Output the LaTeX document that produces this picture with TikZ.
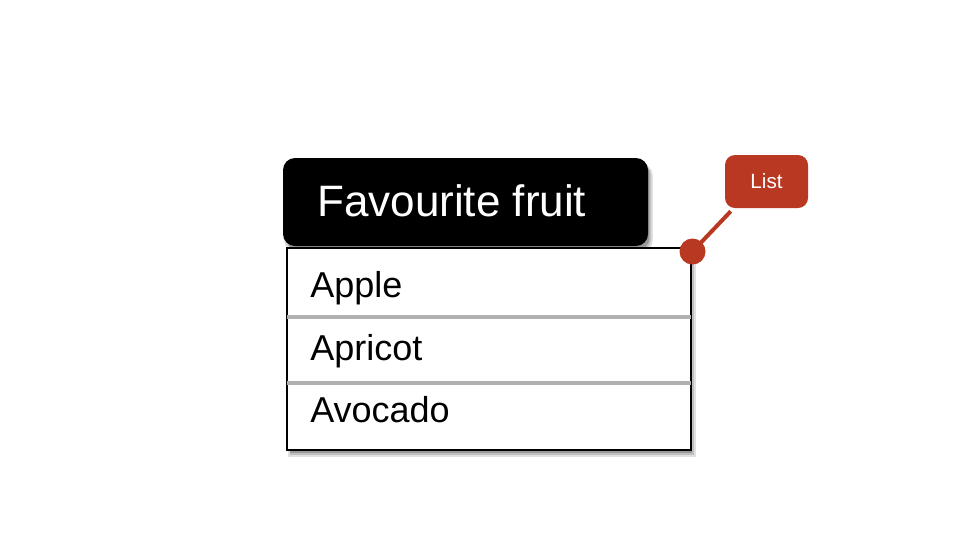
\documentclass[tikz,border=0pt]{standalone}
\usepackage{fontspec}
\setmainfont{Liberation Sans}
\usetikzlibrary{shadows}
\definecolor{calloutred}{RGB}{185,56,34}
\definecolor{rulegray}{RGB}{176,176,176}

\begin{document}
\begin{tikzpicture}[x=0.75pt,y=0.75pt,yscale=-1,xscale=1,
  boxshadow/.style={
    general shadow={shadow xshift=2.25pt,shadow yshift=-4.5pt,opacity=0.12,fill=black,shadow scale=1.01},
    general shadow={shadow xshift=2.25pt,shadow yshift=-4pt,opacity=0.15,fill=black},
    general shadow={shadow xshift=1.8pt,shadow yshift=-3pt,opacity=0.2,fill=black,shadow scale=0.995}},
  item/.style={anchor=base west,inner sep=0pt,font=\fontsize{27}{32}\selectfont}]
\useasboundingbox (0,0) rectangle (960,540);

%Rounded Rect [header]
\node (header) [fill=black, rounded corners=9pt, boxshadow, minimum width=273.75pt, minimum height=66pt, inner sep=0pt] at (465.5,202) {};
%Shape: Rectangle [list]
\node (list) [draw=black, line width=1.1pt, fill=white, boxshadow, minimum width=303pt, minimum height=151.5pt, inner sep=0pt] at (489,349) {};

%Straight Lines [dividers]
\draw [rulegray, line width=2.6pt] ([xshift=0.55pt]list.west |- 0,317) -- ([xshift=-0.55pt]list.east |- 0,317) ;
\draw [rulegray, line width=2.6pt] ([xshift=0.55pt]list.west |- 0,383) -- ([xshift=-0.55pt]list.east |- 0,383) ;

% Text Node
\node (title) [anchor=base west, inner sep=0pt, text=white, font=\fontsize{33}{40}\selectfont] at (317,216) {Favourite fruit};
% Text Node
\node (apple) [item] at (310,297) {Apple};
% Text Node
\node (apricot) [item] at (310,360) {Apricot};
% Text Node
\node (avocado) [item] at (310,422) {Avocado};

%Rounded Rect [callout]
\node (callout) [fill=calloutred, rounded corners=7.5pt, minimum width=62.25pt, minimum height=39.75pt, inner sep=0pt, text=white, font=\fontsize{15.5}{18}\selectfont] at (766.5,181.5) {List};
%Shape: Circle [pin]
\coordinate (pin) at (692.5,251.5);
\fill [calloutred] (pin) circle (9.75pt);
%Straight Lines [connector]
\draw [calloutred, line width=3pt] (pin) -- ([xshift=4.5pt,yshift=2.25pt]callout.south west) ;

\end{tikzpicture}
\end{document}
